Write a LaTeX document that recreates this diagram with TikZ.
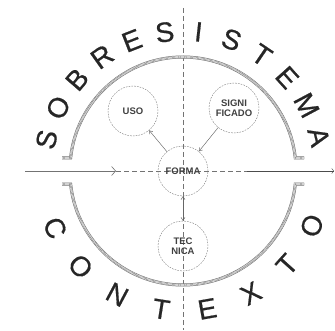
\documentclass[tikz,border=0pt]{standalone}
\usepackage{fontspec}
\setmainfont{Liberation Sans}
\newfontfamily\heavyletters[FakeBold=0.6]{Liberation Sans}
\usetikzlibrary{arrows.meta}
\newcommand\ringtopPath{(62,172) -- (70.6,172) arc[start angle=173.9,end angle=6.1,radius=113] -- (304,172)}
\newcommand\ringbotPath{(62,146) -- (70.6,146) arc[start angle=186.1,end angle=353.9,radius=113] -- (304,146)}
\begin{document}
\begin{tikzpicture}[x=1pt,y=1pt,
  bubble/.style={circle,draw=black!50,dash pattern=on 1.6pt off 1.2pt,line width=0.45pt,
    minimum size=50pt,inner sep=0pt,font=\bfseries\fontsize{9.5}{10}\selectfont,align=center,text=black!75},
  link/.style={draw=black!60,line width=0.45pt},
  barb/.style={-{Straight Barb[length=3pt,width=4pt]}},
  ringedge/.style={draw=black!60,line width=0.5pt,double=white,double distance=2pt},
  ringhatch/.style={draw=black!50,line width=2pt,dash pattern=on 0.45pt off 0.75pt},
  bigletter/.style={font=\heavyletters\fontsize{28}{28}\selectfont,text=black!85,inner sep=0pt},
  axisdash/.style={draw=black!55,line width=0.5pt,dash pattern=on 5pt off 3pt},
  axissolid/.style={draw=black!55,line width=0.6pt}
]
\useasboundingbox (0,0) rectangle (335,330);
% axes
\coordinate (vtop) at (183,322);
\coordinate (vbot) at (183,0);
\coordinate (hl) at (25,159);
\coordinate (ha) at (116,159);
\coordinate (hd) at (247,159);
\coordinate (hr) at (334,159);
\draw[axisdash] (vtop) -- (vbot);
\draw[axissolid,-{Straight Barb[length=4pt,width=9pt]}] (hl) -- (ha);
\draw[axisdash] (ha) -- (hd);
\draw[axissolid,draw=black!70,line width=0.9pt,-{Straight Barb[length=2pt,width=5pt,line width=0.4pt]}] (hd) -- (hr);
% rings
\draw[ringedge] \ringtopPath;
\draw[ringhatch] \ringtopPath;
\draw[ringedge] \ringbotPath;
\draw[ringhatch] \ringbotPath;
% bubbles
\node[bubble] (forma) at (183,159) {FORMA};
\node[bubble] (uso) at (133,219) {USO};
\node[bubble] (signi) at (234,222) {SIGNI\\FICADO};
\node[bubble] (tecnica) at (183,84) {TEC\\NICA};
\draw[link,barb] (forma) -- (uso);
\draw[link,barb] (signi) -- (forma);
\draw[link,{Straight Barb[length=3pt,width=4pt]}-{Straight Barb[length=3pt,width=4pt]}] (forma) -- (tecnica);
% letters
\foreach \ch [count=\i] in {S,O,B,R,E,S,I,S,T,E,M,A} {
  \pgfmathsetmacro\ang{167-13.9*(\i-1)}
  \node[bigletter,rotate=\ang-90] (top\i) at ([shift={(\ang:140)}]forma.center) {\ch};
}
\foreach \ch [count=\i] in {C,O,N,T,E,X,T,O} {
  \pgfmathsetmacro\ang{204+19*(\i-1)}
  \node[bigletter,rotate=\ang+90] (bot\i) at ([shift={(\ang:140)}]forma.center) {\ch};
}
\end{tikzpicture}
\end{document}
